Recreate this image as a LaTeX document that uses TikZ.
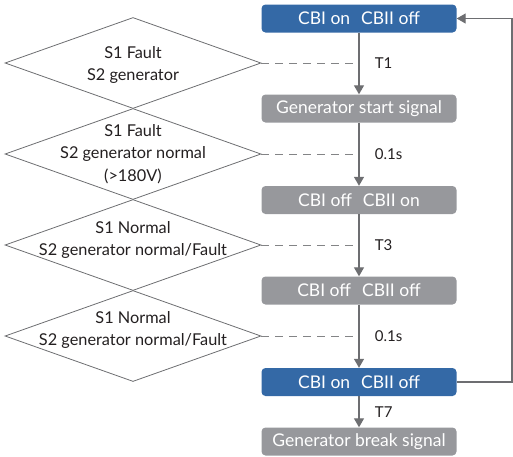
\documentclass[tikz,border=0pt]{standalone}
\usepackage{fontspec}
\setmainfont{Lato}
\usetikzlibrary{shapes.geometric,arrows.meta,positioning,calc}

\definecolor{cbblue}{HTML}{3469A6}
\definecolor{cbgrey}{HTML}{97989C}
\definecolor{linegrey}{HTML}{6D6E71}
\definecolor{txtdark}{HTML}{231F20}

\tikzset{
    state/.style={rectangle,rounded corners=4pt,minimum width=195pt,minimum height=28pt,
        inner sep=0pt,text=white,font=\fontsize{17.5}{20}\selectfont},
    onstate/.style={state,fill=cbblue},
    offstate/.style={state,fill=cbgrey},
    cond/.style={diamond,draw=linegrey,line width=0.8pt,minimum width=256pt,
        minimum height=91pt,inner sep=0pt},
    condtext/.style={align=center,text=txtdark,font=\fontsize{16.3}{22.5}\selectfont},
    flow/.style={-{Triangle[length=9pt,width=10pt]},line width=1.3pt,draw=linegrey},
    link/.style={dash pattern=on 8pt off 6pt,line width=1pt,draw=linegrey!85},
    delay/.style={right=12pt,text=txtdark,font=\fontsize{15}{17}\selectfont}
}

\begin{document}
\begin{tikzpicture}[x=1pt,y=-1pt]
    \useasboundingbox (0,0) rectangle (513,456);

    % States
    \node[onstate] (s1) at (359,18.5) {CBI on\hspace{11pt}CBII off};
    \node[offstate] (s2) at (359,108.5) {Generator start signal};
    \node[offstate] (s3) at (359,200) {CBI off\hspace{11pt}CBII on};
    \node[offstate] (s4) at (359,290.5) {CBI off\hspace{11pt}CBII off};
    \node[onstate] (s5) at (359,382) {CBI on\hspace{11pt}CBII off};
    \node[offstate] (s6) at (359,441.5) {Generator break signal};

    % Conditions
    \node[cond] (c1) at (133,63) {};
    \node[cond] (c2) at (133,154) {};
    \node[cond] (c3) at (133,245) {};
    \node[cond] (c4) at (133,336) {};
    \node[condtext,yshift=-2pt] at (c1) {S1 Fault\\S2 generator};
    \node[condtext] at (c2) {S1 Fault\\S2 generator normal\\(>180V)};
    \node[condtext,yshift=5pt] at (c3) {S1 Normal\\S2 generator normal/Fault};
    \node[condtext,yshift=6pt] at (c4) {S1 Normal\\S2 generator normal/Fault};

    % Arrows
    \draw[flow] (s1) -- (s2);
    \draw[flow] (s2) -- (s3);
    \draw[flow] (s3) -- (s4);
    \draw[flow] (s4) -- (s5);
    \draw[flow] (s5) -- node[delay] {T7} (s6);
    \draw[flow] (s5.east) -- (512,382) -- (512,18.5) -- (s1.east);

    % Conditions to transitions
    \draw[link] (c1.east) -- (c1.east -| s1) node[delay] {T1};
    \draw[link] (c2.east) -- (c2.east -| s2) node[delay] {0.1s};
    \draw[link] (c3.east) -- (c3.east -| s3) node[delay] {T3};
    \draw[link] (c4.east) -- (c4.east -| s4) node[delay] {0.1s};
\end{tikzpicture}
\end{document}
